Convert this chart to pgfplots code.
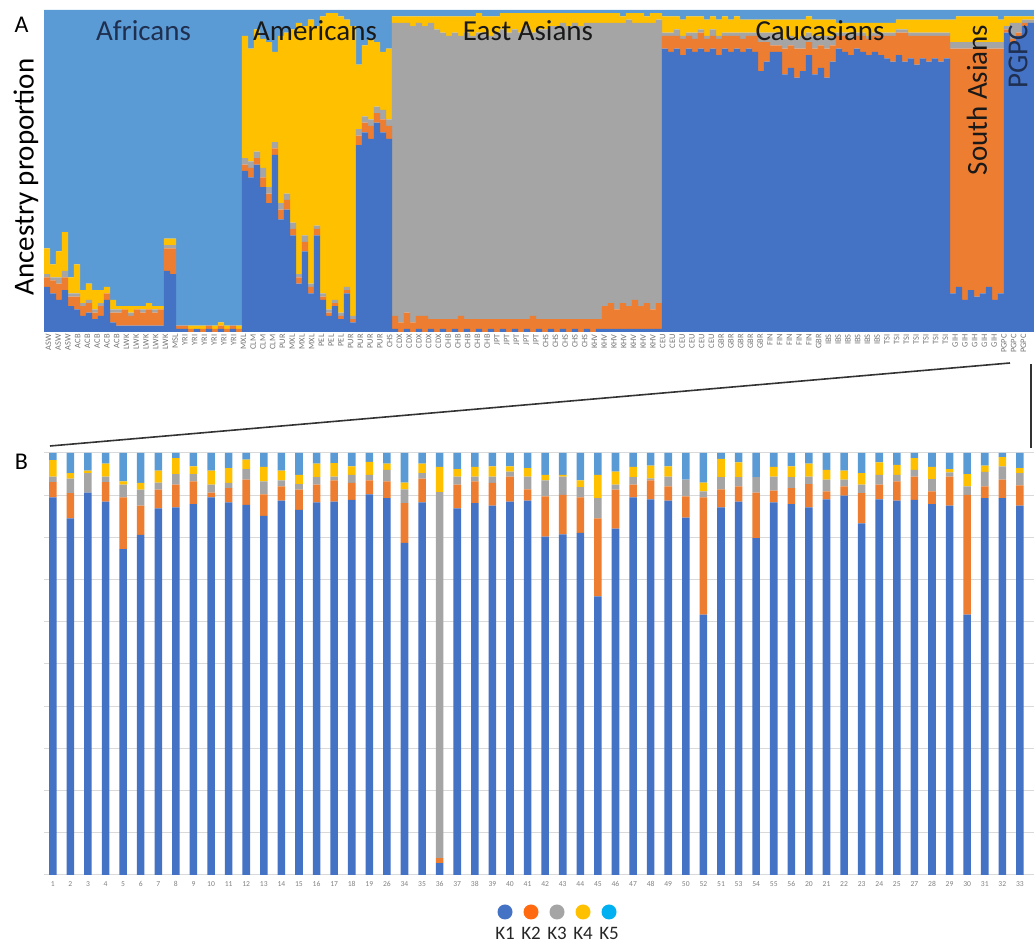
\documentclass[border=0pt]{standalone}
\usepackage{pgfplots}
\pgfplotsset{compat=1.18}
\usepackage{pgfplotstable}
\usepackage{fontspec}
\setmainfont{Carlito}
\definecolor{kA}{HTML}{4472C4}
\definecolor{kB}{HTML}{ED7D31}
\definecolor{kC}{HTML}{A5A5A5}
\definecolor{kD}{HTML}{FFC000}
\definecolor{kE}{HTML}{5B9BD5}
\definecolor{lA}{HTML}{4472C4}
\definecolor{lB}{HTML}{FF6A10}
\definecolor{lC}{HTML}{A5A5A5}
\definecolor{lD}{HTML}{FFC000}
\definecolor{lE}{HTML}{00B0F0}
\definecolor{navy}{HTML}{1F2F50}

% Panel A: one column = 6 px of the reference
\pgfplotstableread{
x a b c d e
1 0.14 0.03 0.01 0.08 0.74
2 0.12 0.04 0.01 0.04 0.79
3 0.10 0.05 0.02 0.08 0.75
4 0.13 0.04 0.02 0.12 0.69
5 0.08 0.03 0.01 0.05 0.83
6 0.07 0.04 0.01 0.09 0.79
7 0.05 0.03 0.01 0.04 0.87
8 0.06 0.03 0.01 0.05 0.85
9 0.04 0.02 0.01 0.06 0.87
10 0.05 0.03 0.01 0.04 0.87
11 0.10 0.02 0.00 0.02 0.86
12 0.03 0.03 0.01 0.03 0.90
13 0.02 0.04 0.01 0.01 0.92
14 0.02 0.05 0.00 0.01 0.92
15 0.02 0.03 0.01 0.02 0.92
16 0.02 0.05 0.00 0.01 0.92
17 0.02 0.04 0.01 0.01 0.92
18 0.02 0.05 0.00 0.02 0.91
19 0.02 0.04 0.01 0.01 0.92
20 0.02 0.05 0.00 0.01 0.92
21 0.19 0.07 0.01 0.02 0.71
22 0.18 0.08 0.01 0.02 0.71
23 0.01 0.01 0.00 0.00 0.98
24 0.01 0.01 0.00 0.00 0.98
25 0.00 0.01 0.00 0.01 0.98
26 0.01 0.00 0.00 0.01 0.98
27 0.00 0.01 0.00 0.01 0.98
28 0.01 0.01 0.00 0.00 0.98
29 0.00 0.01 0.00 0.01 0.98
30 0.01 0.01 0.00 0.01 0.97
31 0.00 0.01 0.00 0.01 0.98
32 0.01 0.01 0.00 0.00 0.98
33 0.00 0.01 0.00 0.01 0.98
34 0.50 0.02 0.02 0.38 0.08
35 0.48 0.03 0.02 0.35 0.12
36 0.52 0.02 0.02 0.38 0.06
37 0.45 0.03 0.03 0.40 0.09
38 0.40 0.03 0.02 0.45 0.10
39 0.55 0.02 0.02 0.28 0.13
40 0.35 0.03 0.02 0.52 0.08
41 0.38 0.03 0.02 0.50 0.07
42 0.30 0.02 0.02 0.60 0.06
43 0.15 0.02 0.01 0.78 0.04
44 0.25 0.03 0.02 0.65 0.05
45 0.12 0.02 0.01 0.82 0.03
46 0.30 0.02 0.01 0.62 0.05
47 0.10 0.01 0.01 0.86 0.02
48 0.05 0.01 0.01 0.92 0.01
49 0.08 0.01 0.01 0.89 0.01
50 0.04 0.01 0.01 0.92 0.02
51 0.12 0.01 0.01 0.83 0.03
52 0.03 0.01 0.01 0.90 0.05
53 0.58 0.03 0.02 0.20 0.17
54 0.62 0.03 0.02 0.22 0.11
55 0.60 0.04 0.02 0.25 0.09
56 0.65 0.03 0.02 0.20 0.10
57 0.62 0.04 0.03 0.18 0.13
58 0.60 0.04 0.02 0.22 0.12
59 0.01 0.04 0.91 0.02 0.02
60 0.00 0.03 0.93 0.02 0.02
61 0.01 0.05 0.90 0.02 0.02
62 0.00 0.03 0.92 0.03 0.02
63 0.01 0.04 0.91 0.02 0.02
64 0.00 0.05 0.90 0.03 0.02
65 0.01 0.03 0.92 0.02 0.02
66 0.00 0.04 0.90 0.04 0.02
67 0.01 0.03 0.89 0.05 0.02
68 0.00 0.04 0.88 0.06 0.02
69 0.01 0.03 0.89 0.05 0.02
70 0.00 0.05 0.87 0.06 0.02
71 0.01 0.03 0.89 0.05 0.02
72 0.00 0.04 0.88 0.06 0.02
73 0.01 0.03 0.89 0.06 0.01
74 0.00 0.04 0.89 0.05 0.02
75 0.01 0.03 0.88 0.06 0.02
76 0.00 0.04 0.89 0.05 0.02
77 0.01 0.03 0.90 0.05 0.01
78 0.00 0.04 0.89 0.06 0.01
79 0.01 0.03 0.90 0.05 0.01
80 0.00 0.04 0.89 0.06 0.01
81 0.01 0.03 0.91 0.04 0.01
82 0.00 0.05 0.88 0.06 0.01
83 0.01 0.03 0.90 0.05 0.01
84 0.00 0.04 0.90 0.05 0.01
85 0.01 0.03 0.91 0.04 0.01
86 0.00 0.04 0.91 0.04 0.01
87 0.01 0.03 0.92 0.03 0.01
88 0.00 0.04 0.91 0.04 0.01
89 0.01 0.03 0.92 0.03 0.01
90 0.00 0.04 0.91 0.04 0.01
91 0.01 0.03 0.92 0.03 0.01
92 0.00 0.04 0.92 0.03 0.01
93 0.01 0.03 0.92 0.03 0.01
94 0.01 0.07 0.88 0.03 0.01
95 0.01 0.08 0.87 0.03 0.01
96 0.01 0.06 0.89 0.03 0.01
97 0.01 0.08 0.87 0.02 0.02
98 0.01 0.07 0.89 0.02 0.01
99 0.01 0.09 0.86 0.03 0.01
100 0.01 0.07 0.88 0.03 0.01
101 0.01 0.08 0.87 0.02 0.02
102 0.01 0.06 0.89 0.03 0.01
103 0.01 0.08 0.88 0.02 0.01
104 0.88 0.04 0.01 0.05 0.02
105 0.87 0.05 0.01 0.05 0.02
106 0.88 0.04 0.02 0.04 0.02
107 0.86 0.05 0.01 0.05 0.03
108 0.88 0.04 0.01 0.05 0.02
109 0.87 0.04 0.02 0.05 0.02
110 0.88 0.05 0.01 0.04 0.02
111 0.87 0.04 0.01 0.05 0.03
112 0.88 0.04 0.02 0.04 0.02
113 0.86 0.05 0.01 0.05 0.03
114 0.88 0.04 0.01 0.05 0.02
115 0.87 0.05 0.01 0.04 0.03
116 0.88 0.04 0.01 0.05 0.02
117 0.87 0.04 0.02 0.04 0.03
118 0.88 0.04 0.01 0.04 0.03
119 0.87 0.05 0.01 0.04 0.03
120 0.81 0.09 0.03 0.04 0.03
121 0.84 0.06 0.03 0.04 0.03
122 0.87 0.02 0.04 0.04 0.03
123 0.87 0.02 0.04 0.04 0.03
124 0.80 0.08 0.03 0.06 0.03
125 0.82 0.07 0.03 0.05 0.03
126 0.79 0.09 0.03 0.06 0.03
127 0.81 0.07 0.04 0.05 0.03
128 0.86 0.04 0.03 0.05 0.02
129 0.80 0.08 0.04 0.05 0.03
130 0.82 0.07 0.03 0.05 0.03
131 0.79 0.09 0.04 0.05 0.03
132 0.84 0.05 0.03 0.05 0.03
133 0.88 0.04 0.01 0.03 0.04
134 0.87 0.05 0.01 0.03 0.04
135 0.86 0.05 0.02 0.03 0.04
136 0.88 0.04 0.01 0.03 0.04
137 0.87 0.05 0.01 0.03 0.04
138 0.86 0.05 0.01 0.04 0.04
139 0.87 0.05 0.01 0.03 0.04
140 0.86 0.06 0.01 0.03 0.04
141 0.85 0.07 0.01 0.03 0.04
142 0.84 0.08 0.01 0.03 0.04
143 0.86 0.07 0.01 0.03 0.03
144 0.84 0.09 0.01 0.03 0.03
145 0.85 0.07 0.01 0.04 0.03
146 0.83 0.09 0.01 0.04 0.03
147 0.85 0.07 0.01 0.04 0.03
148 0.84 0.08 0.01 0.04 0.03
149 0.85 0.07 0.01 0.04 0.03
150 0.84 0.08 0.01 0.04 0.03
151 0.85 0.07 0.01 0.04 0.03
152 0.12 0.76 0.02 0.07 0.03
153 0.14 0.74 0.02 0.08 0.02
154 0.10 0.78 0.02 0.08 0.02
155 0.13 0.75 0.02 0.08 0.02
156 0.11 0.77 0.02 0.08 0.02
157 0.12 0.76 0.02 0.08 0.02
158 0.14 0.74 0.02 0.08 0.02
159 0.10 0.78 0.02 0.08 0.02
160 0.12 0.76 0.02 0.07 0.03
161 0.93 0.01 0.01 0.03 0.02
162 0.90 0.01 0.05 0.02 0.02
163 0.92 0.01 0.03 0.02 0.02
164 0.95 0.01 0.01 0.01 0.02
165 0.96 0.00 0.01 0.01 0.02
}\tabA

% Panel B: 56 samples in plotted order
\pgfplotstableread{
x a b c d e
1 0.895 0.036 0.013 0.039 0.017
2 0.845 0.060 0.034 0.013 0.048
3 0.906 0.000 0.046 0.006 0.042
4 0.885 0.046 0.013 0.031 0.025
5 0.772 0.123 0.030 0.008 0.067
6 0.806 0.069 0.038 0.016 0.071
7 0.869 0.044 0.017 0.028 0.042
8 0.871 0.054 0.025 0.038 0.012
9 0.879 0.054 0.017 0.018 0.032
10 0.895 0.011 0.019 0.033 0.042
11 0.883 0.034 0.012 0.035 0.036
12 0.877 0.060 0.025 0.022 0.016
13 0.851 0.051 0.031 0.034 0.033
14 0.887 0.034 0.014 0.023 0.042
15 0.865 0.048 0.013 0.022 0.052
16 0.883 0.042 0.018 0.032 0.025
17 0.885 0.050 0.009 0.032 0.024
18 0.889 0.040 0.019 0.020 0.032
19 0.902 0.033 0.013 0.031 0.021
20 0.893 0.040 0.027 0.015 0.025
21 0.787 0.094 0.033 0.016 0.070
22 0.883 0.056 0.013 0.023 0.025
23 0.028 0.012 0.867 0.060 0.033
24 0.869 0.056 0.019 0.018 0.038
25 0.881 0.052 0.011 0.023 0.033
26 0.875 0.054 0.015 0.024 0.032
27 0.885 0.059 0.012 0.012 0.032
28 0.887 0.027 0.030 0.020 0.036
29 0.802 0.095 0.038 0.013 0.052
30 0.807 0.094 0.043 0.004 0.052
31 0.811 0.084 0.024 0.016 0.065
32 0.660 0.185 0.048 0.055 0.052
33 0.821 0.092 0.012 0.031 0.044
34 0.895 0.030 0.018 0.024 0.033
35 0.890 0.045 0.005 0.030 0.030
36 0.887 0.034 0.023 0.024 0.032
37 0.847 0.050 0.040 0.000 0.063
38 0.617 0.278 0.014 0.021 0.070
39 0.871 0.043 0.029 0.043 0.014
40 0.885 0.036 0.022 0.035 0.022
41 0.798 0.108 0.037 0.000 0.057
42 0.883 0.028 0.033 0.023 0.033
43 0.879 0.038 0.026 0.025 0.032
44 0.871 0.055 0.018 0.031 0.025
45 0.890 0.019 0.028 0.023 0.040
46 0.899 0.022 0.016 0.021 0.042
47 0.833 0.072 0.020 0.027 0.048
48 0.890 0.035 0.023 0.030 0.022
49 0.887 0.046 0.015 0.024 0.028
50 0.889 0.055 0.016 0.028 0.012
51 0.879 0.030 0.029 0.029 0.033
52 0.875 0.069 0.010 0.008 0.038
53 0.617 0.284 0.020 0.029 0.050
54 0.893 0.028 0.034 0.015 0.030
55 0.893 0.044 0.031 0.022 0.010
56 0.875 0.048 0.029 0.012 0.036
}\tabB

\begin{document}
\begin{tikzpicture}
\path[use as bounding box] (0,0) rectangle (517pt,471pt);

% ---------------- Panel A ----------------
\begin{axis}[
  at={(22pt,305pt)}, anchor=south west,
  width=495pt, height=161pt, scale only axis,
  ybar stacked, bar width=1.06,
  xmin=0.5, xmax=165.5, ymin=0, ymax=1,
  axis line style={draw=none},
  ytick=\empty,
  major tick length=0pt,
  xtick={1.25,2.875,...,163.8},
  xticklabels={ASW,ASW,ASW,ACB,ACB,ACB,ACB,ACB,LWK,LWK,LWK,LWK,LWK,MSL,YRI,YRI,YRI,YRI,YRI,YRI,
    MXL,CLM,CLM,CLM,PUR,MXL,MXL,MXL,PEL,PEL,PEL,PUR,PUR,PUR,PUR,
    CHS,CDX,CDX,CDX,CDX,CDX,CHB,CHB,CHB,CHB,CHB,JPT,JPT,JPT,JPT,JPT,CHS,CHS,CHS,CHS,CHS,KHV,KHV,KHV,KHV,KHV,KHV,KHV,
    CEU,CEU,CEU,CEU,CEU,CEU,GBR,GBR,GBR,GBR,GBR,FIN,FIN,FIN,FIN,FIN,GBR,IBS,IBS,IBS,IBS,IBS,IBS,TSI,TSI,TSI,TSI,TSI,TSI,TSI,
    GIH,GIH,GIH,GIH,GIH,PGPC,PGPC,PGPC},
  x tick label style={rotate=90, anchor=east, font=\fontsize{4.2}{4.5}\selectfont, text=black!55, inner sep=1pt},
]
\addplot[fill=kA, draw=none] table[x=x,y=a]{\tabA};
\addplot[fill=kB, draw=none] table[x=x,y=b]{\tabA};
\addplot[fill=kC, draw=none] table[x=x,y=c]{\tabA};
\addplot[fill=kD, draw=none] table[x=x,y=d]{\tabA};
\addplot[fill=kE, draw=none] table[x=x,y=e]{\tabA};
\end{axis}

% ---------------- Panel B ----------------
\begin{axis}[
  at={(22pt,33.5pt)}, anchor=south west,
  width=495pt, height=211pt, scale only axis,
  ybar stacked, bar width=0.43,
  xmin=0.5, xmax=56.8, ymin=0, ymax=1,
  axis line style={draw=none},
  ytick={0,0.1,...,1.01}, yticklabels={},
  ymajorgrids, grid style={draw=black!15, line width=0.5pt},
  major tick length=0pt,
  xtick={1,...,56},
  xticklabels={1,2,3,4,5,6,7,8,9,10,11,12,13,14,15,16,17,18,19,26,34,35,36,37,38,39,40,41,42,43,44,45,46,47,48,49,50,52,51,53,54,55,56,20,21,22,23,24,25,27,28,29,30,31,32,33},
  x tick label style={font=\fontsize{3.8}{4}\selectfont, text=black!50, inner sep=1pt, yshift=-2pt},
]
\addplot[fill=kA, draw=none] table[x=x,y=a]{\tabB};
\addplot[fill=kB, draw=none] table[x=x,y=b]{\tabB};
\addplot[fill=kC, draw=none] table[x=x,y=c]{\tabB};
\addplot[fill=kD, draw=none] table[x=x,y=d]{\tabB};
\addplot[fill=kE, draw=none] table[x=x,y=e]{\tabB};
\end{axis}

% ---------------- Annotations (reference pixel coordinates) ----------------
\begin{scope}[x=0.5pt, y=-0.5pt, shift={(0pt,471pt)}]
  \node[font=\fontsize{12}{12}\selectfont] at (21.5,24.5) {A};
  \node[font=\fontsize{12}{12}\selectfont] at (21.5,461.5) {B};
  \node[font=\fontsize{14.5}{15}\selectfont, rotate=90] at (26,177) {Ancestry proportion};
  \node[font=\fontsize{14.5}{15}\selectfont, text=navy, anchor=base] at (143.5,41) {Africans};
  \node[font=\fontsize{14.5}{15}\selectfont, text=black!90, anchor=base] at (315,41) {Americans};
  \node[font=\fontsize{14.5}{15}\selectfont, text=black!90, anchor=base] at (528,41) {East Asians};
  \node[font=\fontsize{14.5}{15}\selectfont, text=black!90, anchor=base] at (820,41) {Caucasians};
  \node[font=\fontsize{14.5}{15}\selectfont, text=black!90, rotate=90] at (977,100) {South Asians};
  \node[font=\fontsize{14.5}{15}\selectfont, text=navy, rotate=90] at (1018,57) {PGPC};
  % zoom connector lines
  \draw[line width=0.8pt, black!80] (50,446) -- (1010,363);
  \draw[line width=0.8pt, black!80] (1031,364) -- (1031,448);
  % legend
  \foreach \c/\t [count=\i from 0] in {lA/K1,lB/K2,lC/K3,lD/K4,lE/K5} {
    \fill[\c] (505+26*\i,912) circle (7.5);
    \node[font=\fontsize{9.5}{10}\selectfont, text=black!85] at (505+26*\i,933) {\t};
  }
\end{scope}
\end{tikzpicture}
\end{document}
